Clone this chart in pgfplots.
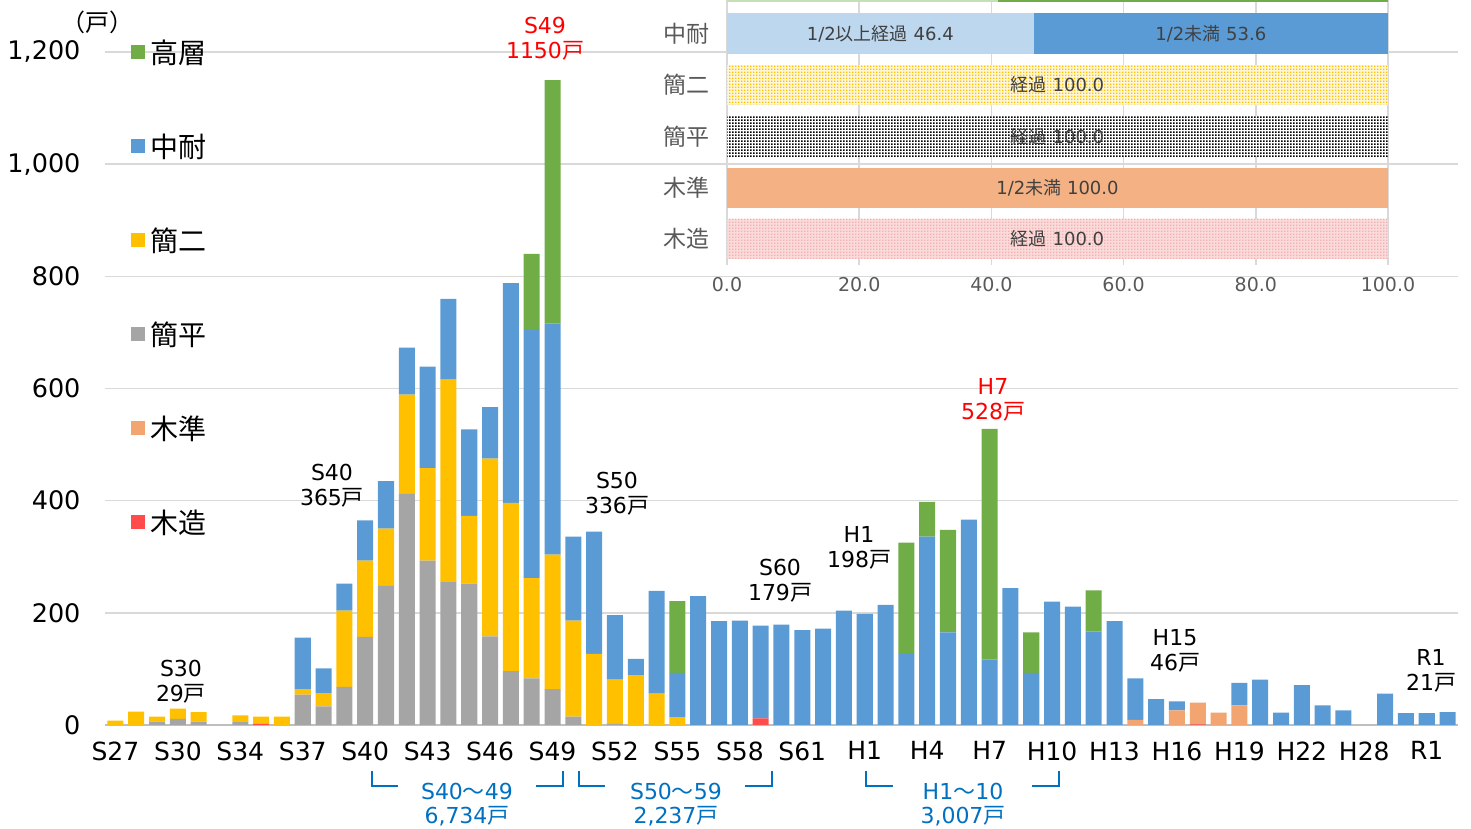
\documentclass[border=0pt]{standalone}
\usepackage{pgfplots}
\pgfplotsset{compat=1.18}
\usepackage{pgfplotstable}
\usetikzlibrary{patterns}
\usepackage{fontspec}
\setmainfont{DejaVu Sans}
\newfontfamily\cjk{Noto Sans CJK JP}
\definecolor{cGreen}{HTML}{70AD47}
\definecolor{cBlue}{HTML}{5B9BD5}
\definecolor{cYellow}{HTML}{FFC000}
\definecolor{cGray}{HTML}{A5A5A5}
\definecolor{cOrange}{HTML}{F2A571}
\definecolor{cRed}{HTML}{FF4B4B}
\definecolor{cLBlue}{HTML}{BDD7EE}
\definecolor{cLGreen}{HTML}{C5E0B4}
\definecolor{cGrid}{HTML}{D9D9D9}
\definecolor{cAxis}{HTML}{BFBFBF}
\definecolor{cTxt}{HTML}{595959}
\definecolor{cIn}{HTML}{404040}
\definecolor{cBr}{HTML}{0070C0}
\definecolor{cInOrange}{HTML}{F4B183}
\definecolor{cPinkBg}{HTML}{FBDADA}
\definecolor{cPinkDot}{HTML}{F2B0B0}
\definecolor{cYelBg}{HTML}{FFF6D6}

\pgfdeclarepatternformonly{densedots}{\pgfqpoint{0pt}{0pt}}{\pgfqpoint{3pt}{3pt}}{\pgfqpoint{3pt}{3pt}}{%
  \pgfpathrectangle{\pgfqpoint{0pt}{0pt}}{\pgfqpoint{1.8pt}{1.8pt}}%
  \pgfusepath{fill}}
\pgfdeclarepatternformonly{heavydots}{\pgfqpoint{0pt}{0pt}}{\pgfqpoint{3pt}{3pt}}{\pgfqpoint{3pt}{3pt}}{%
  \pgfpathrectangle{\pgfqpoint{0pt}{0pt}}{\pgfqpoint{2pt}{2pt}}%
  \pgfusepath{fill}}

\pgfplotstableread{
i red orange gray yellow blue green
0 0 0 0 8 0 0
1 0 0 0 24 0 0
2 0 0 6 9 0 0
3 0 0 11 18 0 0
4 0 0 6 17 0 0
5 0 0 0 0 0 0
6 0 0 5 12 0 0
7 2 0 0 13 0 0
8 0 0 0 15 0 0
9 0 0 54 10 92 0
10 0 0 33 24 44 0
11 0 0 68 136 48 0
12 0 0 157 136 72 0
13 0 0 248 102 85 0
14 0 0 412 177 84 0
15 0 0 293 165 181 0
16 0 0 256 360 144 0
17 0 0 252 121 154 0
18 0 0 158 317 92 0
19 0 0 96 300 392 0
20 0 0 83 179 442 136
21 0 0 64 240 412 434
22 0 0 15 171 150 0
23 0 0 0 127 218 0
24 0 0 2 79 115 0
25 0 0 0 89 29 0
26 0 0 0 56 183 0
27 0 0 0 14 79 128
28 0 0 0 0 230 0
29 0 0 0 0 185 0
30 0 0 0 0 186 0
31 12 0 0 0 165 0
32 0 0 0 0 179 0
33 0 0 0 0 169 0
34 0 0 0 0 172 0
35 0 0 0 0 204 0
36 0 0 0 0 198 0
37 0 0 0 0 214 0
38 0 0 0 0 128 197
39 0 0 0 0 336 62
40 0 0 0 0 165 183
41 0 0 0 0 366 0
42 0 0 0 0 117 411
43 0 0 0 0 244 0
44 0 0 0 0 93 72
45 0 0 0 0 220 0
46 0 0 0 0 211 0
47 0 0 0 0 167 73
48 0 0 0 0 185 0
49 0 9 0 0 74 0
50 0 0 0 0 46 0
51 0 26 0 0 16 0
52 1 39 0 0 0 0
53 0 22 0 0 0 0
54 0 35 0 0 40 0
55 0 0 0 0 81 0
56 0 0 0 0 22 0
57 0 0 0 0 71 0
58 0 0 0 0 35 0
59 0 0 0 0 26 0
60 0 0 0 0 0 0
61 0 0 0 0 56 0
62 0 0 0 0 21 0
63 0 0 0 0 21 0
64 0 0 0 0 23 0
}\maindata

\begin{document}
\begin{tikzpicture}
\path[use as bounding box] (0pt,0pt) rectangle (1471pt,829pt);
\begin{axis}[
  at={(105pt,104pt)}, anchor=south west,
  scale only axis, width=1353pt, height=673pt,
  xmin=-0.5, xmax=64.5, ymin=0, ymax=1200,
  ybar stacked, bar width=0.77,
  axis x line*=bottom, axis y line*=left,
  x axis line style={draw=cAxis, line width=2.2pt, -},
  y axis line style={draw=none},
  major tick length=0pt,
  ymajorgrids, grid style={draw=cGrid, line width=1.5pt},
  ytick={0,200,...,1200},
  /pgf/number format/1000 sep={,},
  /pgf/number format/assume math mode=true,
  yticklabel style={font=\fontsize{25.5}{30}\selectfont, xshift=-21pt},
  xtick={0,3,...,63},
  xticklabels={S27,S30,S34,S37,S40,S43,S46,S49,S52,S55,S58,S61,H1,H4,H7,H10,H13,H16,H19,H22,H28,R1},
  xticklabel style={font=\fontsize{25}{30}\selectfont, yshift=-13pt},
  reverse legend,
  legend cell align=left,
  legend image code/.code={\fill[#1] (0pt,-4pt) rectangle (14pt,10pt);},
  legend style={at={(0.0192,1.0184)}, anchor=north west, draw=none, fill=none,
    inner sep=0pt, row sep=64pt, column sep=5pt,
    font=\cjk\fontsize{28}{30}\selectfont,
    nodes={inner sep=0pt, text height=24pt, text depth=6pt}},
  clip=false,
]
\addplot[fill=cRed, draw=none] table[x=i,y=red]{\maindata};
\addlegendentry{木造}
\addplot[fill=cOrange, draw=none] table[x=i,y=orange]{\maindata};
\addlegendentry{木準}
\addplot[fill=cGray, draw=none] table[x=i,y=gray]{\maindata};
\addlegendentry{簡平}
\addplot[fill=cYellow, draw=none] table[x=i,y=yellow]{\maindata};
\addlegendentry{簡二}
\addplot[fill=cBlue, draw=none] table[x=i,y=blue]{\maindata};
\addlegendentry{中耐}
\addplot[fill=cGreen, draw=none] table[x=i,y=green]{\maindata};
\addlegendentry{高層}
\end{axis}

% inset chart
\begin{axis}[
  at={(727pt,564.3pt)}, anchor=south west,
  scale only axis, width=661pt, height=264.7pt,
  xmin=0, xmax=100, ymin=-0.5, ymax=4.652,
  xbar, bar width=0.78, bar shift=0pt,
  axis line style={draw=none},
  major tick length=0pt,
  xmajorgrids, grid style={draw=cGrid, line width=1.5pt},
  xtick={0,20,...,100},
  xticklabel={\pgfmathprintnumber[fixed,fixed zerofill,precision=1,assume math mode=true]{\tick}},
  xticklabel style={font=\fontsize{19}{22}\selectfont, text=cTxt, yshift=-9pt},
  ytick={0,1,2,3,4},
  yticklabels={木造,木準,簡平,簡二,中耐},
  yticklabel style={font=\cjk\fontsize{23}{25}\selectfont, text=cTxt, xshift=-14pt},
]
\addplot[fill=cGreen, draw=none] coordinates {(100,5)};
\addplot[fill=cLGreen, draw=none] coordinates {(41,5)};
\addplot[fill=cBlue, draw=none] coordinates {(100,4)};
\addplot[fill=cLBlue, draw=none] coordinates {(46.4,4)};
\addplot[fill=cYelBg, draw=none] coordinates {(100,3)};
\addplot[pattern=densedots, pattern color=cYellow, draw=none] coordinates {(100,3)};
\addplot[fill=white, draw=none] coordinates {(100,2)};
\addplot[pattern=heavydots, pattern color=black, draw=none] coordinates {(100,2)};
\addplot[fill=cInOrange, draw=none] coordinates {(100,1)};
\addplot[fill=cPinkBg, draw=none] coordinates {(100,0)};
\addplot[pattern=densedots, pattern color=cPinkDot, draw=none] coordinates {(100,0)};
\begin{scope}[every node/.style={font=\fontsize{18}{20}\selectfont, text=cIn}]
\node at (axis cs:23.2,4) {1/2{\cjk 以上経過} 46.4};
\node at (axis cs:73.2,4) {1/2{\cjk 未満} 53.6};
\node at (axis cs:50,3) {{\cjk 経過} 100.0};
\node at (axis cs:50,2) {{\cjk 経過} 100.0};
\node at (axis cs:50,1) {1/2{\cjk 未満} 100.0};
\node at (axis cs:50,0) {{\cjk 経過} 100.0};
\end{scope}
\end{axis}

% unit label
\node[font=\cjk\fontsize{24}{26}\selectfont] at (97pt,807pt) {（戸）};

% annotations
\begin{scope}[every node/.style={align=center, inner sep=0pt, font=\fontsize{22}{25.5}\selectfont}]
\node at (181pt,147pt) {S30\\29{\cjk 戸}};
\node at (332pt,343pt) {S40\\365{\cjk 戸}};
\node[text=red] at (545pt,790pt) {S49\\1150{\cjk 戸}};
\node at (617pt,335pt) {S50\\336{\cjk 戸}};
\node at (780pt,248pt) {S60\\179{\cjk 戸}};
\node at (859pt,281pt) {H1\\198{\cjk 戸}};
\node[text=red] at (993pt,429pt) {H7\\528{\cjk 戸}};
\node at (1175pt,178pt) {H15\\46{\cjk 戸}};
\node at (1431pt,158pt) {R1\\21{\cjk 戸}};
\end{scope}

% period brackets
\begin{scope}[draw=cBr, line width=2.5pt]
\draw (372pt,58pt) -- (372pt,43pt) -- (398pt,43pt);
\draw (536pt,43pt) -- (563pt,43pt) -- (563pt,58pt);
\draw (579pt,58pt) -- (579pt,43pt) -- (605pt,43pt);
\draw (745pt,43pt) -- (772pt,43pt) -- (772pt,58pt);
\draw (866pt,58pt) -- (866pt,43pt) -- (893pt,43pt);
\draw (1032pt,43pt) -- (1059pt,43pt) -- (1059pt,58pt);
\end{scope}
\begin{scope}[every node/.style={align=center, inner sep=0pt, text=cBr, font=\fontsize{22}{24}\selectfont}]
\node at (467pt,24pt) {S40{\cjk ～}49\\6,734{\cjk 戸}};
\node at (676pt,24pt) {S50{\cjk ～}59\\2,237{\cjk 戸}};
\node at (963pt,24pt) {H1{\cjk ～}10\\3,007{\cjk 戸}};
\end{scope}
\end{tikzpicture}
\end{document}
